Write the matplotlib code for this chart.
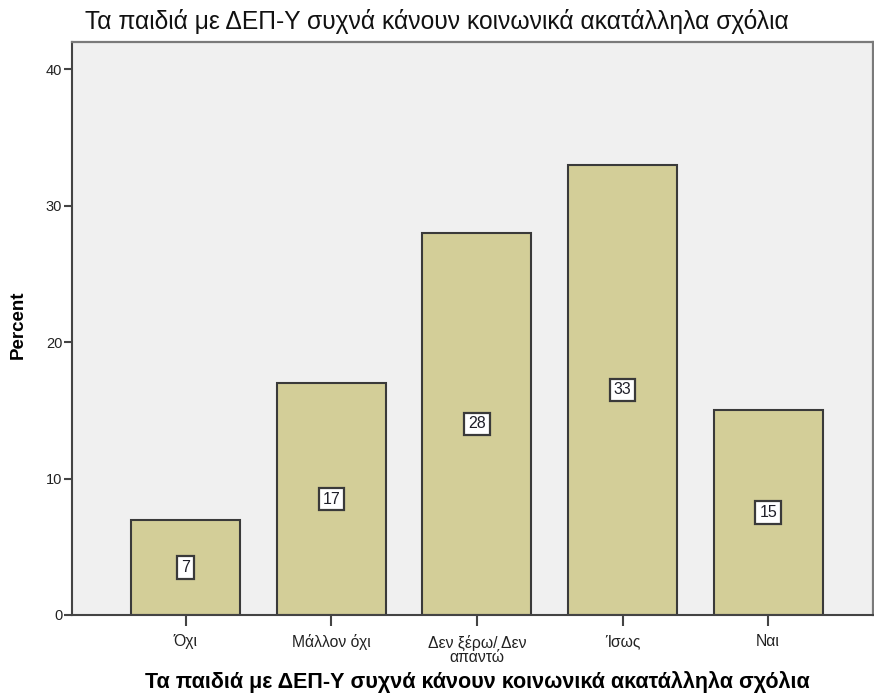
import matplotlib.pyplot as plt

# --- Data -------------------------------------------------------------------
TITLE = "Τα παιδιά με ΔΕΠ-Υ συχνά κάνουν κοινωνικά ακατάλληλα σχόλια"
CATEGORIES = ["Όχι", "Μάλλον όχι", "Δεν ξέρω/ Δεν\nαπαντώ", "Ίσως", "Ναι"]
PERCENT = [7, 17, 28, 33, 15]
Y_TICKS = [0, 10, 20, 30, 40]

BAR_COLOR = "#d3ce98"
EDGE_COLOR = "#3a3a3a"
PANEL_COLOR = "#f0f0f0"

W, H = 874, 698


def main():
    plt.rcParams["font.family"] = ["Liberation Sans", "DejaVu Sans"]

    fig = plt.figure(figsize=(W / 100, H / 100), dpi=100)
    ax = fig.add_axes([72 / W, 1 - 615 / H, (873 - 72) / W, (615 - 42) / H])
    ax.set_facecolor(PANEL_COLOR)

    x = range(len(CATEGORIES))
    bars = ax.bar(x, PERCENT, width=0.75, color=BAR_COLOR,
                  edgecolor=EDGE_COLOR, linewidth=1.5, zorder=2)

    for bar, val in zip(bars, PERCENT):
        ax.text(bar.get_x() + bar.get_width() / 2, val / 2, f"{val}",
                ha="center", va="center", fontsize=11.5, color="#1e1e28",
                bbox=dict(boxstyle="square,pad=0.24", facecolor="white",
                          edgecolor=EDGE_COLOR, linewidth=1.6), zorder=3)

    ax.set_xlim(-0.78, 4.72)
    ax.set_ylim(0, 42)
    ax.set_yticks(Y_TICKS)
    ax.set_xticks(list(x))
    ax.set_xticklabels(CATEGORIES, fontsize=11.3, linespacing=0.95,
                       color="#222222")
    ax.tick_params(axis="y", labelsize=10.5, length=6, width=1.5,
                   color="#444444", pad=1, labelcolor="#222222")
    ax.tick_params(axis="x", length=8, width=1.5, color="#444444", pad=6)

    for side in ["left", "bottom"]:
        ax.spines[side].set_color("#444444")
        ax.spines[side].set_linewidth(1.5)
    for side in ["top", "right"]:
        ax.spines[side].set_color("#7a7a7a")
        ax.spines[side].set_linewidth(1.6)

    fig.text(18 / W, 1 - 325 / H, "Percent", fontsize=13.5, fontweight="bold",
             rotation=90, ha="center", va="center")
    fig.text(477 / W, 1 - 682 / H, TITLE, fontsize=15.5, fontweight="bold",
             ha="center", va="center")
    fig.text(437 / W, 1 - 21 / H, TITLE, fontsize=17.7, color="#111111",
             ha="center", va="center")

    fig.savefig("out.png", dpi=100)


if __name__ == "__main__":
    main()
